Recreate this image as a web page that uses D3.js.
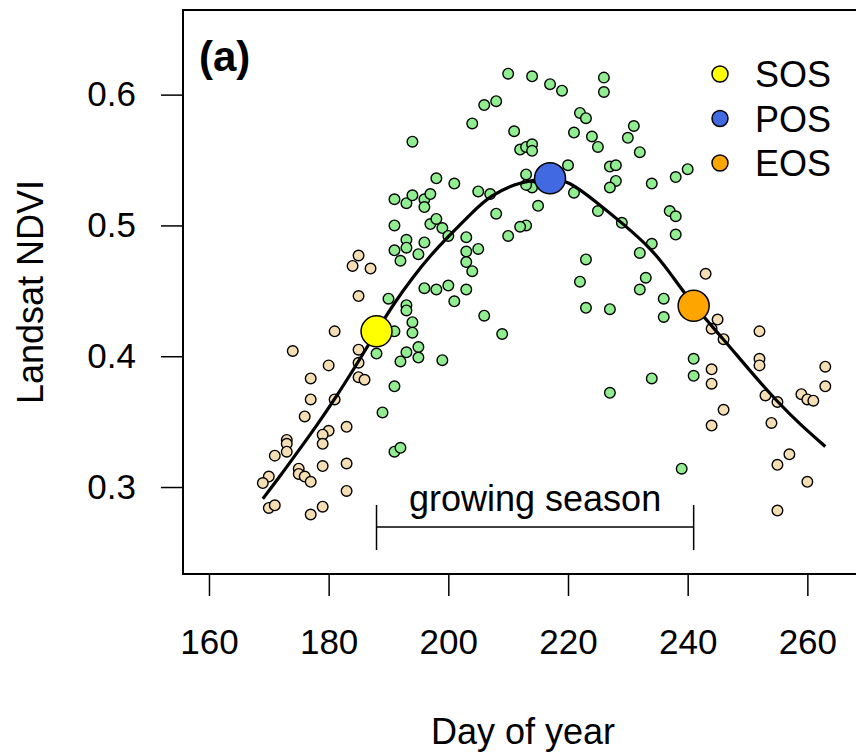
<!DOCTYPE html>
<html>
<head>
<meta charset="utf-8">
<script src="https://cdn.jsdelivr.net/npm/d3@7"></script>
<style>
body{margin:0;background:#fff;overflow:hidden;}
text{font-family:"Liberation Sans",Arial,sans-serif;}
</style>
</head>
<body>
<div id="chart"></div>
<script>
// axis ticks
var tickDays = [160, 180, 200, 220, 240, 260];
var tickNdvi = [0.3, 0.4, 0.5, 0.6];

// observations outside the growing season [day, ndvi]
var offSeason = [
  [185,0.477],[184,0.469],[187,0.467],[185,0.446],[181,0.419],[174,0.404],[185,0.405],[185,0.395],
  [180,0.393],[177,0.383],[185,0.384],[186,0.382],[177,0.367],[181,0.367],[176,0.354],[183,0.346],
  [180,0.343],[179,0.340],[173,0.336],[173,0.333],[173,0.327],[179,0.333],[171,0.324],[179,0.316],
  [183,0.318],[175,0.314],[175,0.310],[176,0.308],[177,0.304],[170,0.308],[169,0.303],[183,0.297],
  [170,0.284],[171,0.286],[177,0.279],[179,0.285],
  [243,0.463],[245,0.428],[244,0.421],[246,0.413],[252,0.419],[252,0.398],[252,0.393],[244,0.390],
  [244,0.379],[246,0.359],[244,0.347],[253,0.370],[255,0.365],[254,0.349],[259,0.371],[260,0.367],
  [261,0.366],[263,0.392],[263,0.377],[257,0.325],[255,0.317],[260,0.304],[255,0.282]
];

// observations inside the growing season [day, ndvi]
var inSeason = [
  [210,0.616],[206,0.592],[208,0.595],[204,0.578],[194,0.564],[211,0.572],[198,0.536],[201,0.532],
  [191,0.520],[193,0.517],[194,0.523],[196,0.520],[196,0.514],[197,0.524],[205,0.526],[207,0.524],
  [208,0.509],[191,0.500],[197,0.501],[198,0.505],[199,0.498],[200,0.492],[203,0.491],[210,0.492],
  [191,0.481],[193,0.489],[193,0.483],[196,0.487],[195,0.478],[192,0.473],[203,0.480],[205,0.482],
  [203,0.472],[204,0.465],[196,0.452],[198,0.451],[200,0.454],[203,0.451],[201,0.442],[206,0.431],
  [209,0.417],[190,0.444],[193,0.439],[193,0.435],[194,0.426],[194,0.418],[191,0.419],[195,0.407],
  [193,0.403],[192,0.396],[195,0.399],[199,0.397],[191,0.377],[188,0.402],[189,0.357],[191,0.327],
  [192,0.330],[214,0.614],[217,0.608],[219,0.603],[226,0.613],[226,0.602],[222,0.586],[223,0.582],
  [221,0.571],[224,0.568],[225,0.560],[231,0.576],[230,0.567],[232,0.556],[212,0.558],[213,0.560],
  [214,0.562],[214,0.557],[220,0.546],[213,0.539],[214,0.529],[213,0.531],[221,0.525],[215,0.515],
  [213,0.500],[212,0.499],[227,0.545],[228,0.546],[228,0.534],[227,0.529],[234,0.532],[238,0.537],
  [240,0.543],[225,0.511],[229,0.502],[237,0.511],[238,0.507],[238,0.493],[234,0.486],[232,0.479],
  [223,0.474],[222,0.457],[233,0.460],[232,0.451],[236,0.444],[236,0.430],[223,0.437],[227,0.436],
  [241,0.398],[241,0.385],[234,0.383],[227,0.372],[239,0.314]
];

// fitted seasonal curve
var fitDays = [169,172,175,178,181,185,188,191,194,197,200,204,207,212,217,220,225,229,234,237,241,246,250,255,259,263];
var fitNdvi = [0.291,0.309,0.328,0.347,0.367,0.396,0.419,0.441,0.460,0.477,0.4915,0.510,0.523,0.5336,0.536,0.5345,0.517,0.502,0.482,0.464,0.4385,0.413,0.391,0.365,0.347,0.331];

// phenology dates
var phenoNames = ["SOS", "POS", "EOS"];
var phenoDays = [188, 217, 241];
var phenoNdvi = [0.419, 0.536, 0.4385];
var phenoColors = ["#ffff00", "#4169e1", "#ffa500"];

var W = 856, H = 753;
var svg = d3.select("#chart").append("svg")
  .attr("width", W).attr("height", H);

var x = d3.scaleLinear().domain([155.66, 269.3]).range([183, 863]);
var y = d3.scaleLinear().domain([0.2335, 0.6647]).range([574, 10]);

// x axis
var gx = svg.append("g")
  .attr("transform", "translate(0,574)")
  .call(d3.axisBottom(x).tickValues(tickDays).tickSize(22).tickPadding(33).tickFormat(d3.format("d")));
gx.select(".domain").remove();
gx.selectAll("line").attr("stroke", "#000").attr("stroke-width", 1.5);
gx.selectAll("text").attr("fill", "#000").style("font-size", "35px")
  .style("font-family", '"Liberation Sans",Arial,sans-serif');

// y axis
var gy = svg.append("g")
  .attr("transform", "translate(183,0)")
  .call(d3.axisLeft(y).tickValues(tickNdvi).tickSize(22).tickPadding(25).tickFormat(d3.format(".1f")));
gy.select(".domain").remove();
gy.selectAll("line").attr("stroke", "#000").attr("stroke-width", 1.5);
gy.selectAll("text").attr("fill", "#000").style("font-size", "35px")
  .style("font-family", '"Liberation Sans",Arial,sans-serif');

// plot box (right side runs past the window edge)
svg.append("rect")
  .attr("x", 183).attr("y", 10)
  .attr("width", 740).attr("height", 564)
  .attr("fill", "none").attr("stroke", "#000").attr("stroke-width", 2);

// axis titles
svg.append("text")
  .attr("x", 523).attr("y", 744)
  .attr("text-anchor", "middle")
  .style("font-size", "36px")
  .text("Day of year");

svg.append("text")
  .attr("transform", "translate(43,292) rotate(-90)")
  .attr("text-anchor", "middle")
  .style("font-size", "36px")
  .text("Landsat NDVI");

svg.append("text")
  .attr("x", 199).attr("y", 71)
  .style("font-size", "42px").style("font-weight", "bold")
  .text("(a)");

// points
svg.append("g").selectAll("circle")
  .data(offSeason)
  .enter().append("circle")
  .attr("cx", function(d){ return x(d[0]); })
  .attr("cy", function(d){ return y(d[1]); })
  .attr("r", 5.3)
  .attr("fill", "#f5deb3")
  .attr("stroke", "#000").attr("stroke-width", 1.4);

svg.append("g").selectAll("circle")
  .data(inSeason)
  .enter().append("circle")
  .attr("cx", function(d){ return x(d[0]); })
  .attr("cy", function(d){ return y(d[1]); })
  .attr("r", 5.3)
  .attr("fill", "#90ee90")
  .attr("stroke", "#000").attr("stroke-width", 1.4);

// fitted curve
var line = d3.line()
  .x(function(d){ return x(d); })
  .y(function(d, i){ return y(fitNdvi[i]); })
  .curve(d3.curveBasis);
svg.append("path")
  .attr("d", line(fitDays))
  .attr("fill", "none").attr("stroke", "#000").attr("stroke-width", 3.2);

// phenology markers
svg.append("g").selectAll("circle")
  .data(phenoDays)
  .enter().append("circle")
  .attr("cx", function(d){ return x(d); })
  .attr("cy", function(d, i){ return y(phenoNdvi[i]); })
  .attr("r", 15.5)
  .attr("fill", function(d, i){ return phenoColors[i]; })
  .attr("stroke", "#000").attr("stroke-width", 1.5);

// growing season bracket
var gs = svg.append("g").attr("stroke", "#000").attr("stroke-width", 1.5);
gs.append("line").attr("x1", x(phenoDays[0])).attr("x2", x(phenoDays[2])).attr("y1", 527).attr("y2", 527);
gs.append("line").attr("x1", x(phenoDays[0])).attr("x2", x(phenoDays[0])).attr("y1", 505).attr("y2", 550);
gs.append("line").attr("x1", x(phenoDays[2])).attr("x2", x(phenoDays[2])).attr("y1", 505).attr("y2", 550);
svg.append("text")
  .attr("x", (x(phenoDays[0]) + x(phenoDays[2])) / 2).attr("y", 511)
  .attr("text-anchor", "middle")
  .style("font-size", "36px")
  .text("growing season");

// legend
var leg = svg.append("g");
phenoNames.forEach(function(name, i){
  var ly = 74 + i * 44.5;
  leg.append("circle")
    .attr("cx", 720).attr("cy", ly).attr("r", 8)
    .attr("fill", phenoColors[i])
    .attr("stroke", "#000").attr("stroke-width", 1.5);
  leg.append("text")
    .attr("x", 755).attr("y", ly + 13)
    .style("font-size", "36px")
    .text(name);
});
</script>
</body>
</html>
